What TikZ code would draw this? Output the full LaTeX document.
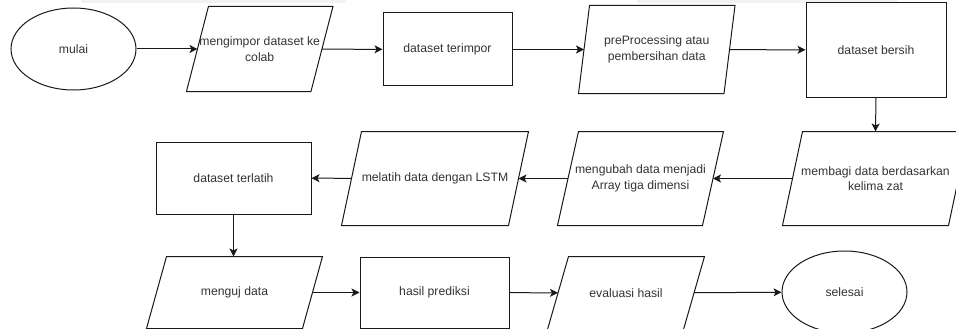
\documentclass[tikz,border=0pt]{standalone}
\usepackage{fontspec}
\setmainfont{Liberation Sans}
\usetikzlibrary{shapes.geometric,arrows.meta}
\definecolor{txt}{HTML}{333333}
\definecolor{barc}{HTML}{F2F2F2}
\begin{document}
\begin{tikzpicture}[x=1pt,y=-1pt,
  base/.style={line width=1pt, text=txt, font=\fontsize{12.2}{15.5}\selectfont, align=center, inner sep=0pt},
  proc/.style={base, draw=black!90, rectangle},
  term/.style={base, draw=black!90, ellipse, minimum width=125pt, minimum height=82pt},
  io/.style={base, rectangle},
  outline/.style={draw=black!90, line width=1pt, line join=miter},
  arr/.style={draw=black!90, line width=1pt, -{Stealth[length=8pt,width=8pt,inset=2pt]}}
]
\useasboundingbox (0,0) rectangle (956,329);
\clip (0,0) rectangle (956,329);
% faint bars at the top edge
\fill[barc] (81,0) rectangle (346,3);
\fill[barc] (637,0) rectangle (897,3);

% row 1
\node[term] (mulai) at (73.5,49) {mulai};
\node[io, minimum width=123.5pt, minimum height=84pt] (imp) at (259.7,49) {mengimpor dataset ke\\colab};
\node[proc, minimum width=129pt, minimum height=73pt] (terimpor) at (447.5,49.5) {dataset terimpor};
\node[io, minimum width=144.5pt, minimum height=87pt] (prep) at (656.75,49.5) {preProcessing atau\\pembersihan data};
\node[proc, minimum width=140pt, minimum height=94pt] (bersih) at (876,50) {dataset bersih};

% row 2
\node[io, minimum width=165pt, minimum height=93pt] (bagi) at (875.5,178.5) {membagi data berdasarkan\\kelima zat};
\node[io, minimum width=144pt, minimum height=93pt] (ubah) at (640.5,178.5) {mengubah data menjadi\\Array tiga dimensi};
\node[io, minimum width=166pt, minimum height=93pt] (latih) at (435,178.5) {melatih data dengan LSTM};
\node[proc, minimum width=155pt, minimum height=72pt] (terlatih) at (233.5,178) {dataset terlatih};

% row 3
\node[io, minimum width=155pt, minimum height=71pt] (uji) at (234.5,292.5) {menguj data};
\node[proc, minimum width=149pt, minimum height=71pt] (hasil) at (434.5,292.5) {hasil prediksi};
\node[io, minimum width=135pt, minimum height=72pt] (eval) at (626,293) {evaluasi hasil};
\node[term] (selesai) at (844.5,292) {selesai};

% parallelogram outlines
\foreach \n/\s in {imp/11, prep/5.5, bagi/10, ubah/10.5, latih/10, uji/10, eval/10.5}
  \draw[outline] ([xshift=\s pt]\n.north west) -- ([xshift=\s pt]\n.north east)
     -- ([xshift=-\s pt]\n.south east) -- ([xshift=-\s pt]\n.south west) -- cycle;

% connectors
\draw[arr] (mulai) -- (imp);
\draw[arr] (imp) -- (terimpor);
\draw[arr] (terimpor) -- (prep);
\draw[arr] (prep) -- (bersih);
\draw[arr] (bersih.south) -- (bagi.north);
\draw[arr] (bagi) -- (ubah);
\draw[arr] (ubah) -- (latih);
\draw[arr] (latih) -- (terlatih);
\draw[arr] (terlatih.south) -- (terlatih.south |- uji.north);
\draw[arr] (uji) -- (hasil);
\draw[arr] (hasil) -- (eval);
\draw[arr] (eval) -- (selesai);
\end{tikzpicture}
\end{document}
